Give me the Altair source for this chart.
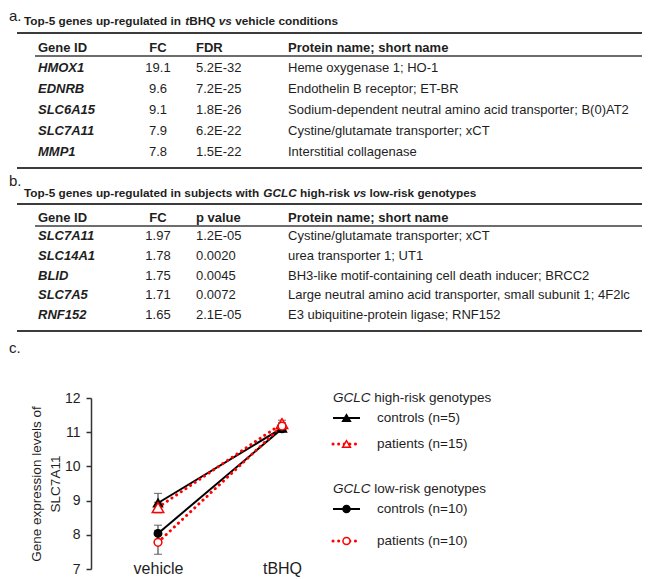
import altair as alt
import pandas as pd

FONT = "Liberation Sans, Arial, Helvetica, sans-serif"
INK = "#1e1e1e"
RULE = "#3c3c3c"

# ---------------- data ----------------
header_a = ["Gene ID", "FC", "FDR", "Protein name; short name"]
genes_a = ["HMOX1", "EDNRB", "SLC6A15", "SLC7A11", "MMP1"]
fc_a = ["19.1", "9.6", "9.1", "7.9", "7.8"]
fdr_a = ["5.2E-32", "7.2E-25", "1.8E-26", "6.2E-22", "1.5E-22"]
protein_a = [
    "Heme oxygenase 1; HO-1",
    "Endothelin B receptor; ET-BR",
    "Sodium-dependent neutral amino acid transporter; B(0)AT2",
    "Cystine/glutamate transporter; xCT",
    "Interstitial collagenase",
]

header_b = ["Gene ID", "FC", "p value", "Protein name; short name"]
genes_b = ["SLC7A11", "SLC14A1", "BLID", "SLC7A5", "RNF152"]
fc_b = ["1.97", "1.78", "1.75", "1.71", "1.65"]
pval_b = ["1.2E-05", "0.0020", "0.0045", "0.0072", "2.1E-05"]
protein_b = [
    "Cystine/glutamate transporter; xCT",
    "urea transporter 1; UT1",
    "BH3-like motif-containing cell death inducer; BRCC2",
    "Large neutral amino acid transporter, small subunit 1; 4F2lc",
    "E3 ubiquitine-protein ligase; RNF152",
]

# (text, italic) segments
title_a = [("Top-5 genes up-regulated in ", False), ("t", True), ("BHQ ", False),
           ("vs", True), (" vehicle conditions", False)]
title_b = [("Top-5 genes up-regulated in subjects with ", False), ("GCLC", True),
           (" high-risk ", False), ("vs", True), (" low-risk genotypes", False)]

conditions = ["vehicle", "tBHQ"]
series = ["controls_high", "patients_high", "controls_low", "patients_low"]
series_labels = ["controls (n=5)", "patients (n=15)", "controls (n=10)", "patients (n=10)"]
group_titles = [[("GCLC", True), (" high-risk genotypes", False)],
                [("GCLC", True), (" low-risk genotypes", False)]]
mean_vehicle = [8.93, 8.80, 8.04, 7.78]
mean_tbhq = [11.12, 11.25, 11.10, 11.18]
err_vehicle = [0.28, 0.15, 0.24, 0.35]
err_tbhq = [0.08, 0.10, 0.07, 0.10]

# ---------------- layout / style ----------------
W, H = 634, 571
COL_X = [30.0, 150.0, 188.0, 280.0]
ALIGNS = ["left", "center", "left", "left"]
LINE_X0, UNDER_X0, TITLE_X = 9.0, 27.0, 16.0
TITLE_SIZE = 11.8
LAB_SIZE = 15
LAY_A = dict(label_y=1.0, title_y=13.0, top=25.0, header=40.0, under=48.0,
             first=60.0, last=144.0, bottom=160.0)
LAY_B = dict(label_y=166.0, title_y=185.0, top=196.0, header=210.0, under=218.0,
             first=228.0, last=307.0, bottom=323.0)
C_LABEL_Y = 333.0
X_RANGE = [150.0, 274.0]
Y_RANGE = [561.0, 390.0]
AXIS_X = 83.0
XLAB_Y = 560.0
LEG_X = 325.0
LEG_SYM = (325.0, 352.0)
LEG_MARK = 338.5
LEG_TEXT = 369.0
LEG_TITLE_Y = [390.0, 481.0]
LEG_ITEM_Y = [410.0, 436.0, 501.0, 533.0]

STYLE = {
    "controls_high": dict(color="black", dashed=False, shape="triangle-up", fill="black", size=80, lsize=60),
    "patients_high": dict(color="red", dashed=True, shape="triangle-up", fill="white", size=130, lsize=60),
    "controls_low": dict(color="black", dashed=False, shape="circle", fill="black", size=55, lsize=50),
    "patients_low": dict(color="red", dashed=True, shape="circle", fill="white", size=60, lsize=50),
}

W_BOLD = {' ': 278, '-': 333, '5': 556, 'T': 611, 'o': 611, 'p': 611, 'g': 611, 'e': 556,
          'n': 611, 's': 556, 'u': 611, 'r': 389, 'l': 278, 'a': 556, 't': 333, 'd': 611,
          'i': 278, 'b': 611, 'j': 278, 'c': 556, 'w': 778, 'h': 611, 'G': 778, 'C': 722,
          'L': 611, 'k': 556, 'v': 556, 'B': 722, 'H': 722, 'Q': 778, 'y': 556}
W_REG = {' ': 278, 'G': 778, 'C': 722, 'L': 556}

ONE = pd.DataFrame({"k": [0]})


def text_width(s, size, bold):
    tab = W_BOLD if bold else W_REG
    return sum(tab.get(c, 556) for c in s) * size / 1000.0


def txt(s, x, y, size=13, bold=False, italic=False, align="left", color=INK, baseline="middle"):
    return alt.Chart(ONE).mark_text(
        text=s, align=align, baseline=baseline, font=FONT, fontSize=size,
        fontWeight="bold" if bold else "normal",
        fontStyle="italic" if italic else "normal", color=color,
    ).encode(x=alt.value(x), y=alt.value(y))


def segments(segs, x0, y, size, bold):
    out, x = [], x0
    for s, ital in segs:
        lead = s[: len(s) - len(s.lstrip())]
        out.append(txt(s.strip(), x + text_width(lead, size, bold), y, size=size,
                       bold=bold, italic=ital))
        x += text_width(s, size, bold)
    return out


def hrule(x0, x1, y, width):
    return alt.Chart(ONE).mark_rule(color=RULE, strokeWidth=width).encode(
        x=alt.value(x0), x2=alt.value(x1), y=alt.value(y))


def table(header, genes, fc, stat, protein, title, label, L):
    n = len(genes)
    body = pd.DataFrame({"row": list(range(1, n + 1)), "gene": genes, "fc": fc,
                         "stat": stat, "protein": protein})
    Y = alt.Y("row:Q", scale=alt.Scale(domain=[1, n], range=[L["first"], L["last"]]), axis=None)
    layers = [hrule(LINE_X0, W, L["top"], 2.2), hrule(UNDER_X0, W, L["under"], 1.3),
              hrule(LINE_X0, W, L["bottom"], 2.2),
              txt(label, 1, L["label_y"], size=LAB_SIZE, baseline="top")]
    layers += segments(title, TITLE_X, L["title_y"], TITLE_SIZE, True)
    for i, h in enumerate(header):
        layers.append(txt(h, COL_X[i], L["header"], bold=True, align=ALIGNS[i]))
    for i, f in enumerate(["gene", "fc", "stat", "protein"]):
        layers.append(alt.Chart(body).mark_text(
            align=ALIGNS[i], baseline="middle", font=FONT, fontSize=13,
            fontWeight="bold" if i == 0 else "normal",
            fontStyle="italic" if i == 0 else "normal", color=INK,
        ).encode(x=alt.value(COL_X[i]), y=Y, text=f"{f}:N"))
    return alt.layer(*layers)


table_a = table(header_a, genes_a, fc_a, fdr_a, protein_a, title_a, "a.", LAY_A)
table_b = table(header_b, genes_b, fc_b, pval_b, protein_b, title_b, "b.", LAY_B)

# ---------------- panel c ----------------
rows = []
for i, s in enumerate(series):
    for j, c in enumerate(conditions):
        m = [mean_vehicle, mean_tbhq][j][i]
        e = [err_vehicle, err_tbhq][j][i]
        rows.append(dict(series=s, kind=s.split("_")[0], cond=c, xi=j + 1,
                         mean=m, lo=m - e, hi=m + e))
df_c = pd.DataFrame(rows)

y_scale = alt.Scale(domain=[7, 12], range=Y_RANGE, nice=False, zero=False)
x_scale = alt.Scale(domain=[1, 2], range=X_RANGE, nice=False, zero=False)
label_expr = "[" + ",".join(f"'{c}'" for c in conditions) + "][datum.value - 1]"
x_axis = alt.Axis(orient="bottom", values=[1, 2], labelExpr=label_expr, domain=False,
                  ticks=False, tickSize=0, grid=False, labelFont=FONT, labelFontSize=16,
                  labelColor=INK, labelBaseline="middle", labelPadding=0,
                  labelFlush=False, labelBound=False, labelOverlap=False,
                  offset=XLAB_Y - H, title=None)
y_axis = alt.Axis(orient="left", values=[7, 8, 9, 10, 11, 12], format="d", grid=False,
                  domainColor="#333333", domainWidth=1.5, tickColor="#333333",
                  tickWidth=1.5, tickSize=5, labelFont=FONT, labelFontSize=14,
                  labelColor=INK, labelPadding=6, offset=-AXIS_X, labelFlush=False,
                  title=["Gene expression levels of", "SLC7A11"], titleFont=FONT,
                  titleFontSize=13.5, titleFontWeight="normal", titleColor=INK,
                  titlePadding=2, titleLineHeight=19)
X = alt.X("xi:Q", scale=x_scale, axis=x_axis)


def Yc(f):
    return alt.Y(f"{f}:Q", scale=y_scale, axis=y_axis)


ERR = "#4a4a4a"
c_layers = [
    alt.Chart(df_c).mark_rule(color=ERR, strokeWidth=1.2).encode(x=X, y=Yc("lo"), y2="hi:Q"),
    alt.Chart(df_c).mark_tick(color=ERR, thickness=1.2, size=8, orient="horizontal").encode(x=X, y=Yc("lo")),
    alt.Chart(df_c).mark_tick(color=ERR, thickness=1.2, size=8, orient="horizontal").encode(x=X, y=Yc("hi")),
    alt.Chart(df_c[df_c.kind == "controls"]).mark_line(color="black", strokeWidth=2).encode(
        x=X, y=Yc("mean"), detail="series:N"),
    alt.Chart(df_c[df_c.kind == "patients"]).mark_line(
        color="red", strokeWidth=3, strokeDash=[0.1, 5.5], strokeCap="round").encode(
        x=X, y=Yc("mean"), detail="series:N"),
]
for s in ["controls_high", "controls_low", "patients_high", "patients_low"]:
    st = STYLE[s]
    c_layers.append(alt.Chart(df_c[df_c.series == s]).mark_point(
        shape=st["shape"], size=st["size"], filled=True, fill=st["fill"],
        stroke=st["color"], strokeWidth=1.5, opacity=1).encode(x=X, y=Yc("mean")))
chart_c = alt.layer(*c_layers)

# ---------------- legend for c ----------------
legend = []
for gi, segs in enumerate(group_titles):
    legend += segments(segs, LEG_X, LEG_TITLE_Y[gi], 13.5, False)
for i, s in enumerate(series):
    st = STYLE[s]
    yv = LEG_ITEM_Y[i]
    if st["dashed"]:
        rl = alt.Chart(ONE).mark_rule(color="red", strokeWidth=3, strokeDash=[0.1, 5.5],
                                      strokeCap="round")
    else:
        rl = alt.Chart(ONE).mark_rule(color="black", strokeWidth=2)
    legend.append(rl.encode(x=alt.value(LEG_SYM[0]), x2=alt.value(LEG_SYM[1]), y=alt.value(yv)))
    legend.append(alt.Chart(ONE).mark_point(
        shape=st["shape"], size=st["lsize"], filled=True, fill=st["fill"],
        stroke=st["color"], strokeWidth=1.5, opacity=1).encode(
        x=alt.value(LEG_MARK), y=alt.value(yv)))
    legend.append(txt(series_labels[i], LEG_TEXT, yv, size=13.5))

c_label = txt("c.", 1, C_LABEL_Y, size=LAB_SIZE, baseline="top")

chart = alt.layer(table_a, table_b, chart_c, c_label, *legend).resolve_scale(
    x="independent", y="independent"
).properties(
    width=W, height=H, padding=0, autosize=alt.AutoSizeParams(type="none")
).configure_view(stroke=None)

chart.save("out.html", embed_options={"renderer": "svg", "actions": False})
